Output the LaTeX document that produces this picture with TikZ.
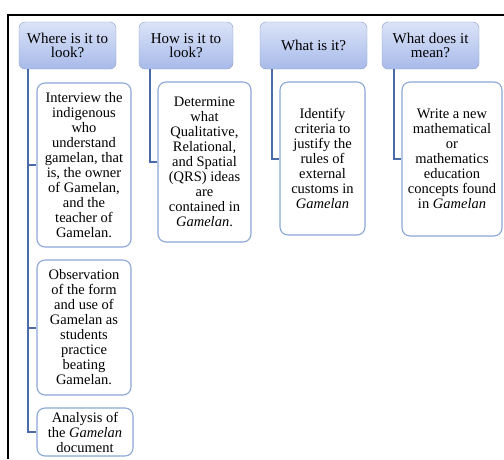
\documentclass[tikz,border=0pt]{standalone}
\usepackage{fontspec}
\setmainfont{Liberation Serif}
\usetikzlibrary{positioning, calc}

\definecolor{headtop}{HTML}{DAE3F7}
\definecolor{headbot}{HTML}{A8BAEA}
\definecolor{headline}{HTML}{8C9DC4}
\definecolor{boxline}{HTML}{8AA7D8}
\definecolor{spine}{HTML}{4B6BA8}

\begin{document}
\begin{tikzpicture}[
      x=1pt, y=-1pt,
      head/.style={rectangle, draw=headline, rounded corners=6pt, top color=headtop, bottom color=headbot,
        minimum height=47pt, inner sep=1pt, align=center, font=\fontsize{15}{14.5}\selectfont},
      item/.style={rectangle, draw=boxline, line width=1.1pt, rounded corners=8pt, fill=white,
        inner sep=1pt, align=center, font=\fontsize{14.5}{15}\selectfont},
      link/.style={draw=spine, line width=2pt}
    ]
      \useasboundingbox (0,0) rectangle (504,459);
      \draw[line width=2.2pt] (8,459) -- (8,15) -- (504,15);

      % question headers
      \node[head, minimum width=97pt] (where) at (67.5,45.5) {Where is it to\\look?};
      \node[head, minimum width=94pt] (how) at (186,45.5) {How is it to\\look?};
      \node[head, minimum width=107pt] (what) at (313.5,45.5) {What is it?};
      \node[head, minimum width=97pt] (mean) at (430.5,45.5) {What does it\\mean?};

      % activities
      \node[item, minimum width=94pt, minimum height=164pt] (interview) at (84,165)
        {Interview the\\indigenous\\who\\understand\\gamelan, that\\is, the owner\\of Gamelan,\\and the\\teacher of\\Gamelan.};
      \node[item, minimum width=94pt, minimum height=135pt] (observe) at (84,327.5)
        {Observation\\of the form\\and use of\\Gamelan as\\students\\practice\\beating\\Gamelan.};
      \node[item, minimum width=96pt, minimum height=48pt] (analysis) at (85,432)
        {Analysis of\\the \textit{Gamelan}\\document};
      \node[item, minimum width=93pt, minimum height=160pt] (qrs) at (204.5,162)
        {Determine\\what\\Qualitative,\\Relational,\\and Spatial\\(QRS) ideas\\are\\contained in\\\textit{Gamelan}.};
      \node[item, minimum width=85pt, minimum height=153pt] (criteria) at (322.5,158.5)
        {Identify\\criteria to\\justify the\\rules of\\external\\customs in\\\textit{Gamelan}};
      \node[item, minimum width=100pt, minimum height=154pt] (concept) at (452,159)
        {Write a new\\mathematical\\or\\mathematics\\education\\concepts found\\in \textit{Gamelan}};

      \draw[link] ([xshift=9pt]where.south west) |- (interview.west);
      \draw[link] ([xshift=9pt]where.south west) |- (observe.west);
      \draw[link] ([xshift=9pt]where.south west) |- (analysis.west);
      \draw[link] ([xshift=11pt]how.south west) |- (qrs.west);
      \draw[link] ([xshift=12pt]what.south west) |- (criteria.west);
      \draw[link] ([xshift=12pt]mean.south west) |- (concept.west);
    \end{tikzpicture}
\end{document}
